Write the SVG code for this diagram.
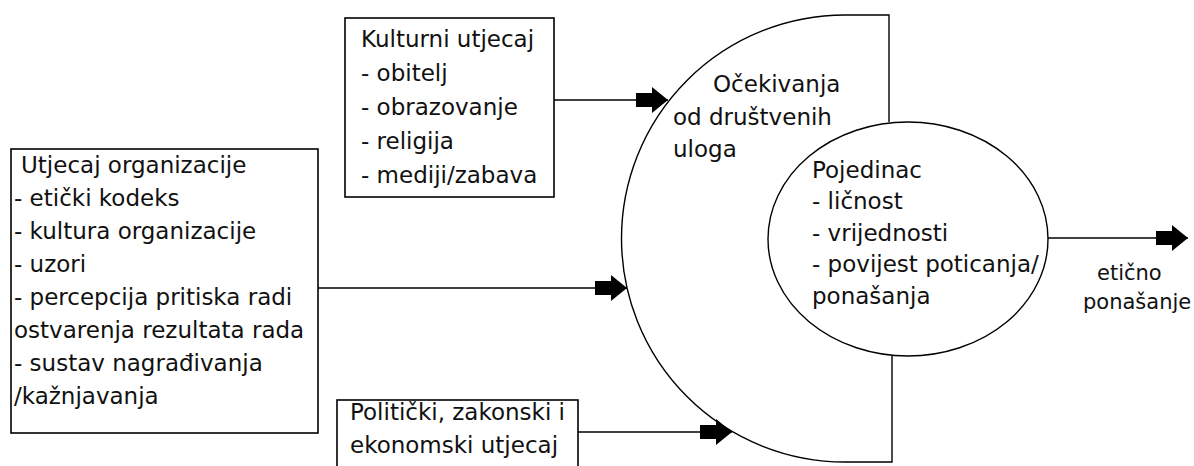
<svg xmlns="http://www.w3.org/2000/svg" width="1194" height="466" viewBox="0 0 1194 466">
<style>
.bg{fill:#ffffff}
.box{fill:none;stroke:#000;stroke-width:1.6}
.shape{fill:none;stroke:#000;stroke-width:1.4}
.conn{fill:none;stroke:#000;stroke-width:1.4}
text{font-family:"DejaVu Sans","Liberation Sans",sans-serif;font-size:23px;fill:#111}
.small{font-size:21px}
</style>
<defs>
<marker id="block" viewBox="0 0 32 26" refX="32" refY="13" markerWidth="32" markerHeight="26" markerUnits="userSpaceOnUse" orient="auto">
<path d="M0,6 H16 V0 L32,13 L16,26 V20 H0 Z" fill="#000"/>
</marker>
</defs>
<rect class="bg" x="0" y="0" width="1194" height="466"/>
<g id="expectations">
<path class="shape" d="M889,122 V15 H845 A223.5 223.5 0 0 0 845,462 H892 V356"/>
<text x="713" y="92">Očekivanja</text>
<text x="673" y="125">od društvenih</text>
<text x="673" y="157">uloga</text>
</g>
<g id="individual">
<ellipse class="shape" cx="908" cy="239" rx="140" ry="117"/>
<text x="812" y="178">Pojedinac</text>
<text x="812" y="209">- ličnost</text>
<text x="812" y="241">- vrijednosti</text>
<text x="812" y="272">- povijest poticanja/</text>
<text x="812" y="304">ponašanja</text>
</g>
<g id="cultural">
<rect class="box" x="345" y="18" width="209" height="179"/>
<text x="361" y="47">Kulturni utjecaj</text>
<text x="361" y="81">- obitelj</text>
<text x="361" y="115">- obrazovanje</text>
<text x="361" y="149">- religija</text>
<text x="361" y="183">- mediji/zabava</text>
</g>
<g id="organization">
<rect class="box" x="11" y="149" width="307" height="284"/>
<text x="21" y="173">Utjecaj organizacije</text>
<text x="14" y="206">- etički kodeks</text>
<text x="14" y="239">- kultura organizacije</text>
<text x="14" y="272">- uzori</text>
<text x="14" y="305">- percepcija pritiska radi</text>
<text x="14" y="338">ostvarenja rezultata rada</text>
<text x="14" y="371">- sustav nagrađivanja</text>
<text x="14" y="404">/kažnjavanja</text>
</g>
<g id="political">
<rect class="box" x="337" y="400" width="241" height="80"/>
<text x="350" y="420">Politički, zakonski i</text>
<text x="350" y="453">ekonomski utjecaj</text>
</g>
<g id="outcome">
<text class="small" x="1097" y="280">etično</text>
<text class="small" x="1083" y="309">ponašanje</text>
</g>
<g id="connectors">
<line class="conn" x1="554" y1="100" x2="668" y2="100" marker-end="url(#block)"/>
<line class="conn" x1="318" y1="288" x2="627" y2="288" marker-end="url(#block)"/>
<line class="conn" x1="578" y1="432" x2="732" y2="432" marker-end="url(#block)"/>
<line class="conn" x1="1048" y1="238" x2="1188" y2="238" marker-end="url(#block)"/>
</g>
</svg>
